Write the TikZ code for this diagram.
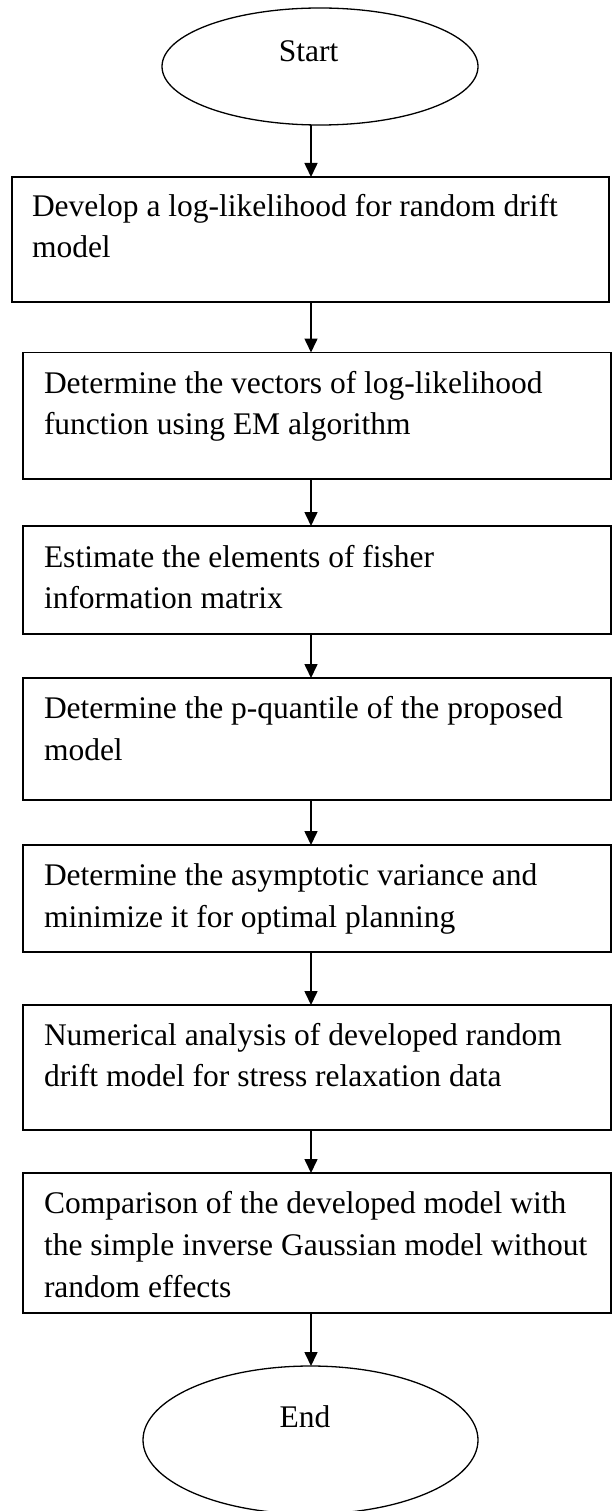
\documentclass[tikz,border=0pt]{standalone}
\usepackage{fontspec}
\setmainfont{Liberation Serif}
\usetikzlibrary{shapes.geometric,arrows.meta}

\tikzset{
  txt/.style={inner sep=0pt, outer sep=0pt, anchor=base west,
    font=\fontsize{31.5}{41.5}\selectfont},
  stepbox/.style={draw, rectangle, line width=1.8pt, inner sep=0pt, outer sep=0pt},
  terminal/.style={draw, ellipse, line width=1.3pt, inner sep=0pt, outer sep=0pt},
  flow/.style={line width=1.6pt, -{Triangle[length=14pt,width=13pt]}},
}

\begin{document}
\begin{tikzpicture}[x=1pt, y=-1pt]
  \useasboundingbox (0,0) rectangle (612,1511);

  % x position shared by all connectors
  \coordinate (ax) at (311,0);

  % terminals
  \node[terminal, minimum width=316pt, minimum height=117pt] (start) at (320,66.5) {};
  \node[txt, anchor=base] (starttxt) at (308.5,62) {Start};

  \node[terminal, minimum width=335pt, minimum height=148pt] (end) at (310.5,1440) {};
  \node[txt, anchor=base] (endtxt) at (305,1427) {End};

  % process steps
  \node[stepbox, minimum width=597pt, minimum height=125pt] (b1) at (310.5,239.5) {};
  \node[txt] (t1a) at (32,217) {Develop a log-likelihood for random drift};
  \node[txt] (t1b) at (32,258) {model};

  \node[stepbox, minimum width=588pt, minimum height=126.5pt] (b2) at (317,415.75) {};
  \node[txt] (t2a) at (44,393) {Determine the vectors of log-likelihood};
  \node[txt] (t2b) at (44,434) {function using EM algorithm};

  \node[stepbox, minimum width=588pt, minimum height=108pt] (b3) at (317,580) {};
  \node[txt] (t3a) at (44,567) {Estimate the elements of fisher};
  \node[txt] (t3b) at (44,608) {information matrix};

  \node[stepbox, minimum width=588pt, minimum height=122pt] (b4) at (317,739) {};
  \node[txt] (t4a) at (44,718) {Determine the p-quantile of the proposed};
  \node[txt] (t4b) at (44,760) {model};

  \node[stepbox, minimum width=588pt, minimum height=107pt] (b5) at (317,898.5) {};
  \node[txt] (t5a) at (44,885) {Determine the asymptotic variance and};
  \node[txt] (t5b) at (44,927) {minimize it for optimal planning};

  \node[stepbox, minimum width=588pt, minimum height=125pt] (b6) at (317,1067.5) {};
  \node[txt] (t6a) at (44,1045) {Numerical analysis of developed random};
  \node[txt] (t6b) at (44,1086) {drift model for stress relaxation data};

  \node[stepbox, minimum width=588pt, minimum height=140pt] (b7) at (317,1243) {};
  \node[txt] (t7a) at (44,1213) {Comparison of the developed model with};
  \node[txt] (t7b) at (44,1255) {the simple inverse Gaussian model without};
  \node[txt] (t7c) at (44,1297) {random effects};

  % connectors
  \draw[flow] (start.south -| ax) -- (b1.north -| ax);
  \draw[flow] (b1.south -| ax) -- (b2.north -| ax);
  \draw[flow] (b2.south -| ax) -- (b3.north -| ax);
  \draw[flow] (b3.south -| ax) -- (b4.north -| ax);
  \draw[flow] (b4.south -| ax) -- (b5.north -| ax);
  \draw[flow] (b5.south -| ax) -- (b6.north -| ax);
  \draw[flow] (b6.south -| ax) -- (b7.north -| ax);
  \draw[flow] (b7.south -| ax) -- (end.north -| ax);
\end{tikzpicture}
\end{document}
